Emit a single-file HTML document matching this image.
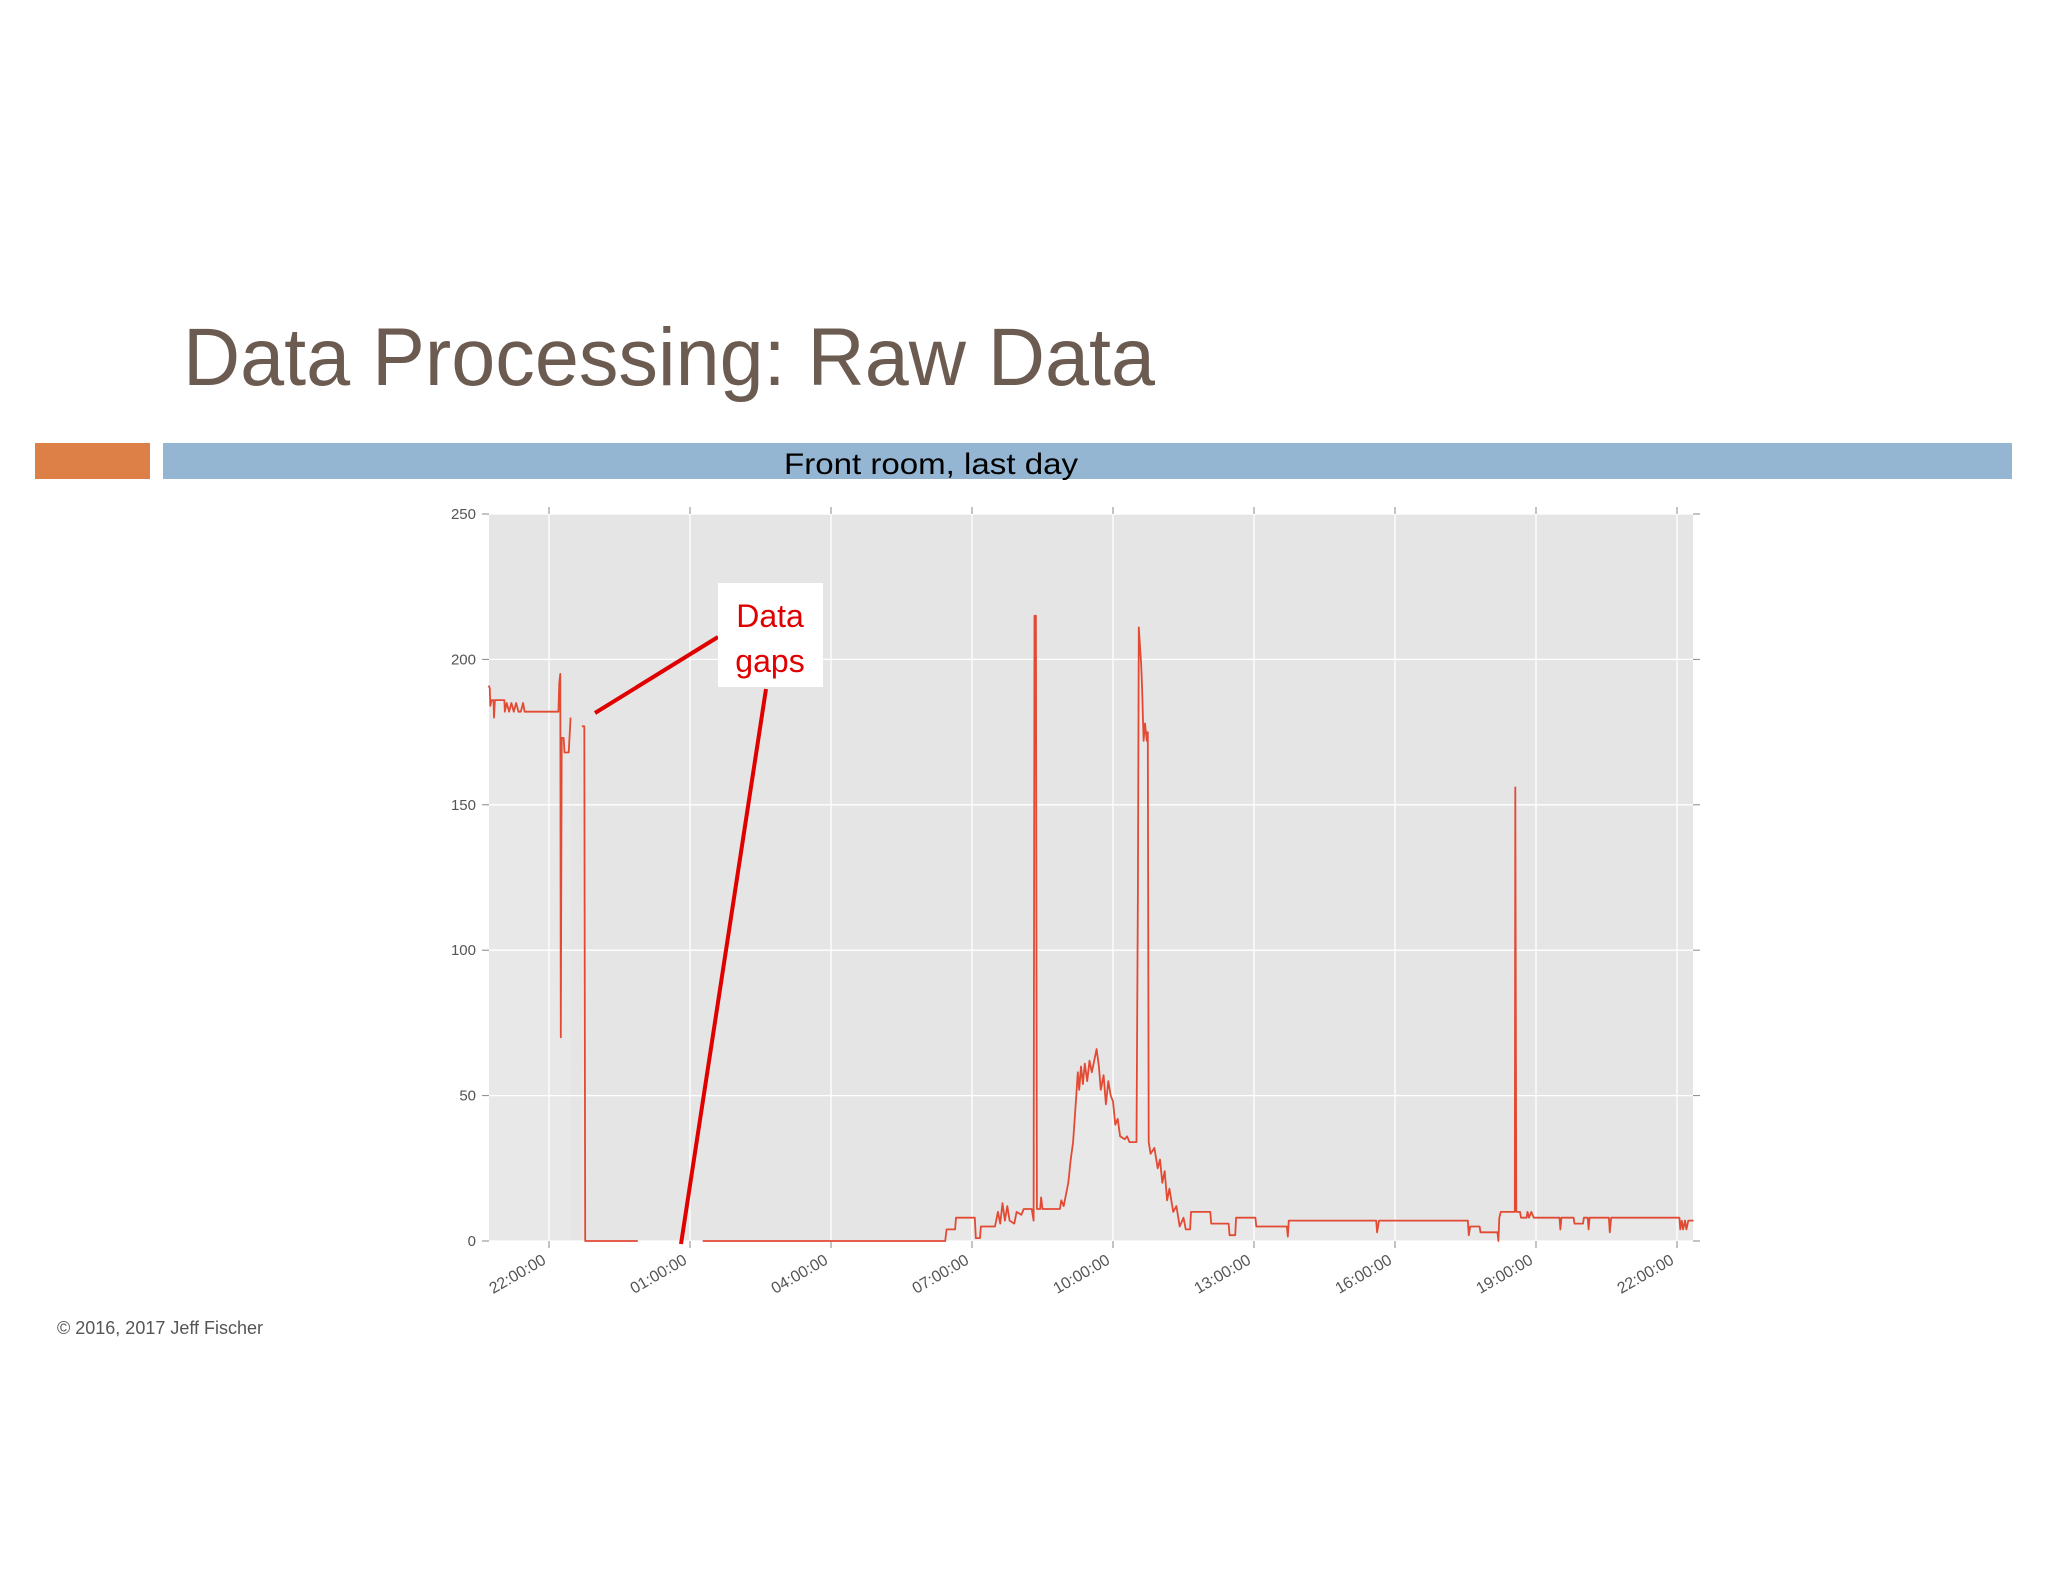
<!DOCTYPE html>
<html><head><meta charset="utf-8">
<style>
html,body{margin:0;padding:0;background:#fff;}
svg{display:block;}
text{font-family:"Liberation Sans",sans-serif;}
</style></head>
<body>
<svg id="chart" width="2048" height="1582" viewBox="0 0 2048 1582" xmlns="http://www.w3.org/2000/svg">
  <text x="183" y="385" font-size="82" fill="#6b5b50" textLength="972" lengthAdjust="spacingAndGlyphs">Data Processing: Raw Data</text>
  <rect x="35" y="443" width="115" height="36" fill="#dd8047"/>
  <rect x="163" y="443" width="1849" height="36" fill="#94b6d2"/>
  <text x="931" y="474" font-size="30" fill="#000" text-anchor="middle" textLength="294" lengthAdjust="spacingAndGlyphs">Front room, last day</text>
  <rect x="489" y="514" width="1204" height="727" fill="#e5e5e5"/>
  <g id="grid"></g>
  <g id="axes"></g>
  <g id="series"></g>
  <g>
    <line x1="718" y1="637" x2="595" y2="713" stroke="#e00000" stroke-width="4"/>
    <line x1="766" y1="689" x2="681" y2="1244" stroke="#e00000" stroke-width="4"/>
    <rect x="718" y="583" width="105" height="104" fill="#fff"/>
    <text x="770" y="627" font-size="32" fill="#e00000" text-anchor="middle">Data</text>
    <text x="770" y="672" font-size="32" fill="#e00000" text-anchor="middle">gaps</text>
  </g>
  <text x="57" y="1334" font-size="18" fill="#555">© 2016, 2017 Jeff Fischer</text>
</svg>
<script>
const yTicks = [0, 50, 100, 150, 200, 250];
const xTickHours = [0, 3, 6, 9, 12, 15, 18, 21, 24];
const xTickLabels = ["22:00:00","01:00:00","04:00:00","07:00:00","10:00:00","13:00:00","16:00:00","19:00:00","22:00:00"];
// hours since 22:00, null = data gap
const seriesHours = [-1.28,-1.26,-1.25,-1.22,-1.18,-1.17,-1.15,-0.95,-0.94,-0.9,-0.85,-0.8,-0.75,-0.7,-0.65,-0.6,-0.55,-0.52,0.2,0.22,0.24,0.25,0.27,0.31,0.33,0.42,0.46,null,
0.70,0.75,0.77,1.89,null,
3.27,8.43,8.46,8.64,8.66,9.06,9.08,9.17,9.19,9.49,9.55,9.6,9.65,9.7,9.75,9.8,9.9,9.95,10.05,10.1,10.27,10.31,10.33,10.36,10.38,10.45,10.47,10.5,10.87,10.9,10.95,11.0,11.05,11.1,11.15,11.22,11.25,11.28,11.32,11.36,11.4,11.45,11.5,11.55,11.6,11.65,11.7,11.74,11.8,11.85,11.9,11.95,12.0,12.05,12.1,12.15,12.25,12.3,12.35,12.5,12.53,12.55,12.6,12.62,12.65,12.68,12.72,12.74,12.76,12.8,12.88,12.95,13.0,13.05,13.1,13.15,13.2,13.28,13.35,13.42,13.5,13.55,13.64,13.66,14.07,14.09,14.46,14.48,14.6,14.62,15.03,15.05,15.7,15.72,15.74,17.6,17.62,17.66,19.55,19.57,19.6,19.8,19.82,20.18,20.2,20.22,20.25,20.55,20.56,20.58,20.66,20.68,20.8,20.82,20.85,20.9,20.95,21.5,21.52,21.54,21.8,21.82,22.0,22.02,22.1,22.12,22.14,22.55,22.57,22.6,24.05,24.07,24.1,24.13,24.17,24.2,24.24,24.35];
const seriesValues = [191,190,184,186,186,180,186,186,182,185,182,185,182,185,182,182,185,182,182,192,195,70,173,173,168,168,180,null,
177,177,0,0,null,
0,0,4,4,8,8,1,1,5,5,10,6,13,7,12,7,6,10,9,11,11,7,215,215,11,11,15,11,11,14,12,16,20,28,34,50,58,52,60,54,61,55,62,58,62,66,60,52,57,47,55,50,48,40,42,36,35,36,34,34,120,211,198,190,172,178,172,175,34,30,32,25,28,20,24,14,18,10,12,5,8,4,4,10,10,6,6,2,2,8,8,5,5,1.5,7,7,3,7,7,2,5,5,3,3,0,8,10,10,156,10,10,8,8,10,8,10,8,8,4,8,8,6,6,8,8,4,8,8,3,8,8,4,7,4,7,4,7,7];

const NS = "http://www.w3.org/2000/svg";
const L = 489, R = 1693, T = 514, B = 1241;
function xs(h){ return 549 + h * 47; }
function ys(v){ return B - v / 250 * (B - T); }
function mk(tag, attrs, parent){ const e = document.createElementNS(NS, tag); for (const k in attrs) e.setAttribute(k, attrs[k]); parent.appendChild(e); return e; }
const grid = document.getElementById('grid'), axes = document.getElementById('axes'), ser = document.getElementById('series');

yTicks.forEach(v => {
  const y = ys(v);
  const g = mk('line', {x1:L, x2:R, y1:y, y2:y, stroke:'#fff', 'stroke-width':1.3}, grid);
  
  
  mk('line', {x1:L-7, x2:L, y1:y, y2:y, stroke:'#888', 'stroke-width':1}, axes);
  mk('line', {x1:R, x2:R+7, y1:y, y2:y, stroke:'#888', 'stroke-width':1}, axes);
  const t = mk('text', {x:L-13, y:y+5, 'font-size':15, fill:'#555', 'text-anchor':'end'}, axes);
  t.textContent = v;
  
  
});
xTickHours.forEach((h, i) => {
  const x = xs(h);
  const g = mk('line', {x1:x, x2:x, y1:T, y2:B, stroke:'#fff', 'stroke-width':1.3}, grid);
  
  
  mk('line', {x1:x, x2:x, y1:T-7, y2:T, stroke:'#888', 'stroke-width':1}, axes);
  mk('line', {x1:x, x2:x, y1:B, y2:B+7, stroke:'#888', 'stroke-width':1}, axes);
  const t = mk('text', {x:x-2, y:B+22, 'font-size':16, fill:'#555', 'text-anchor':'end', transform:'rotate(-30 ' + (x-2) + ' ' + (B+22) + ')'}, axes);
  t.textContent = xTickLabels[i];
  
  
});

let segs = [], cur = [];
for (let i = 0; i < seriesHours.length; i++) {
  if (seriesHours[i] === null || seriesValues[i] === null) { if (cur.length) segs.push(cur); cur = []; continue; }
  cur.push([xs(seriesHours[i]), ys(seriesValues[i])]);
}
if (cur.length) segs.push(cur);
segs.forEach((s, i) => {
  const d = s.map((p, j) => (j ? 'L' : 'M') + p[0].toFixed(1) + ' ' + p[1].toFixed(1)).join(' ');
  const f = mk('path', {d: d + ' L' + s[s.length-1][0].toFixed(1) + ' ' + B + ' L' + s[0][0].toFixed(1) + ' ' + B + ' Z', fill:'rgba(255,255,255,0.12)', stroke:'none'}, ser);
  
  
  const p = mk('path', {d: d, fill:'none', stroke:'#e24a33', 'stroke-width':1.8, 'stroke-linejoin':'round'}, ser);
  
  
});
</script>
</body></html>
